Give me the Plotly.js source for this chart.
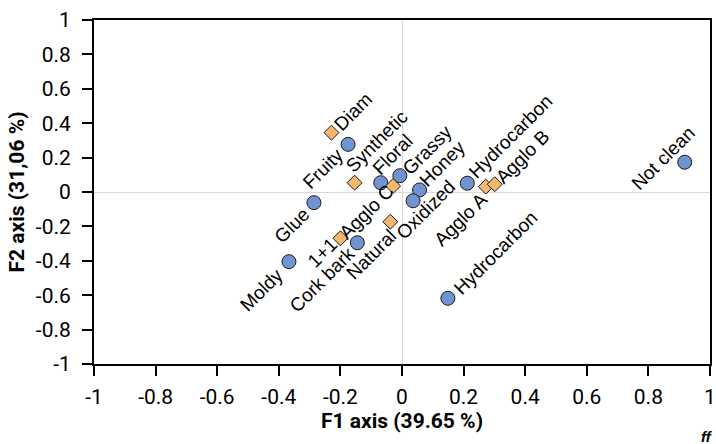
<!DOCTYPE html>
<html>
<head>
<meta charset="utf-8">
<script src="https://cdn.plot.ly/plotly-3.0.1.min.js"></script>
<style>html,body{margin:0;padding:0;background:#fff;}#chart{width:716px;height:444px;}</style>
</head>
<body>
<div id="chart"></div>
<script>
// Active variables (sensory attributes) – blue circles
var attrNames = ["Fruity","Floral","Grassy","Honey","Oxidized","Hydrocarbon","Hydrocarbon","Glue","Cork bark","Moldy","Not clean"];
var attrF1 = [-0.175,-0.069,-0.007,0.057,0.036,0.212,0.149,-0.286,-0.145,-0.367,0.918];
var attrF2 = [0.277,0.054,0.095,0.012,-0.051,0.051,-0.618,-0.062,-0.295,-0.405,0.173];

// Supplementary observations (stopper types) – orange diamonds
var stopNames = ["Diam","Synthetic","Agglo C","Natural","1+1","Agglo A","Agglo B"];
var stopF1 = [-0.229,-0.154,-0.029,-0.038,-0.200,0.272,0.301];
var stopF2 = [0.345,0.054,0.035,-0.173,-0.269,0.031,0.045];

// Axis ticks
var tickVals = [-1,-0.8,-0.6,-0.4,-0.2,0,0.2,0.4,0.6,0.8,1];
var tickText = ["-1","-0.8","-0.6","-0.4","-0.2","0","0.2","0.4","0.6","0.8","1"];

// label placement (pixel offsets of label centre from its marker: right, down)
var attrLabelShift = [[-25,24],[12,-28],[28,-26],[23,-26],[13,9],[43,-47],[48,-46],[-22,23],[-35,37],[-27,28],[-22,-4]];
var stopLabelShift = [[22,-21],[22,-41],[-26,26],[-19,33],[-18,14],[-25,33],[28,-28]];

var labelFont = {family: "Liberation Sans, Arial, sans-serif", size: 19, color: "#000"};

var annotations = [];
function addLabels(names, xs, ys, shifts) {
  for (var i = 0; i < names.length; i++) {
    annotations.push({
      x: xs[i], y: ys[i], xref: "x", yref: "y",
      text: names[i], showarrow: false, textangle: -45,
      xanchor: "center", yanchor: "middle",
      xshift: shifts[i][0], yshift: -shifts[i][1],
      font: labelFont
    });
  }
}
addLabels(attrNames, attrF1, attrF2, attrLabelShift);
addLabels(stopNames, stopF1, stopF2, stopLabelShift);

annotations.push({
  xref: "paper", yref: "paper", x: 1.008, y: -0.212,
  xanchor: "right", yanchor: "middle", showarrow: false,
  text: "<b><i>ff</i></b>", font: {family: "Liberation Sans, Arial, sans-serif", size: 15, color: "#000"}
});

var traces = [
  {
    type: "scatter", mode: "markers", x: attrF1, y: attrF2, text: attrNames,
    marker: {symbol: "circle", size: 14, color: "#7094d2", line: {color: "#1a1a1a", width: 1}},
    hoverinfo: "text+x+y"
  },
  {
    type: "scatter", mode: "markers", x: stopF1, y: stopF2, text: stopNames,
    marker: {symbol: "diamond", size: 11.5, color: "#f2b96e", line: {color: "#1a1a1a", width: 1}},
    hoverinfo: "text+x+y"
  }
];

var axisCommon = {
  range: [-1, 1], tickmode: "array", tickvals: tickVals, ticktext: tickText,
  showgrid: false, zeroline: true, zerolinecolor: "#d9d9d9", zerolinewidth: 1,
  showline: true, linecolor: "#000", linewidth: 2, mirror: true,
  ticks: "outside", ticklen: 10, tickwidth: 2, tickcolor: "#000",
  tickfont: {family: "Roboto, sans-serif", size: 21, color: "#000"}
};

var layout = {
  width: 716, height: 444,
  margin: {l: 94, r: 6, t: 20, b: 80},
  paper_bgcolor: "#fff", plot_bgcolor: "#fff",
  showlegend: false,
  xaxis: Object.assign({}, axisCommon, {
    ticklabelstandoff: 3,
    title: {text: "<b>F1 axis (39.65 %)</b>", font: {family: "Roboto, sans-serif", size: 21, color: "#000"}, standoff: 0}
  }),
  yaxis: Object.assign({}, axisCommon, {
    ticklabelstandoff: 7,
    title: {text: "<b>F2 axis (31,06 %)</b>", font: {family: "Roboto, sans-serif", size: 21, color: "#000"}, standoff: 5}
  }),
  annotations: annotations
};

Plotly.newPlot("chart", traces, layout, {displayModeBar: false, staticPlot: true});
</script>
</body>
</html>
